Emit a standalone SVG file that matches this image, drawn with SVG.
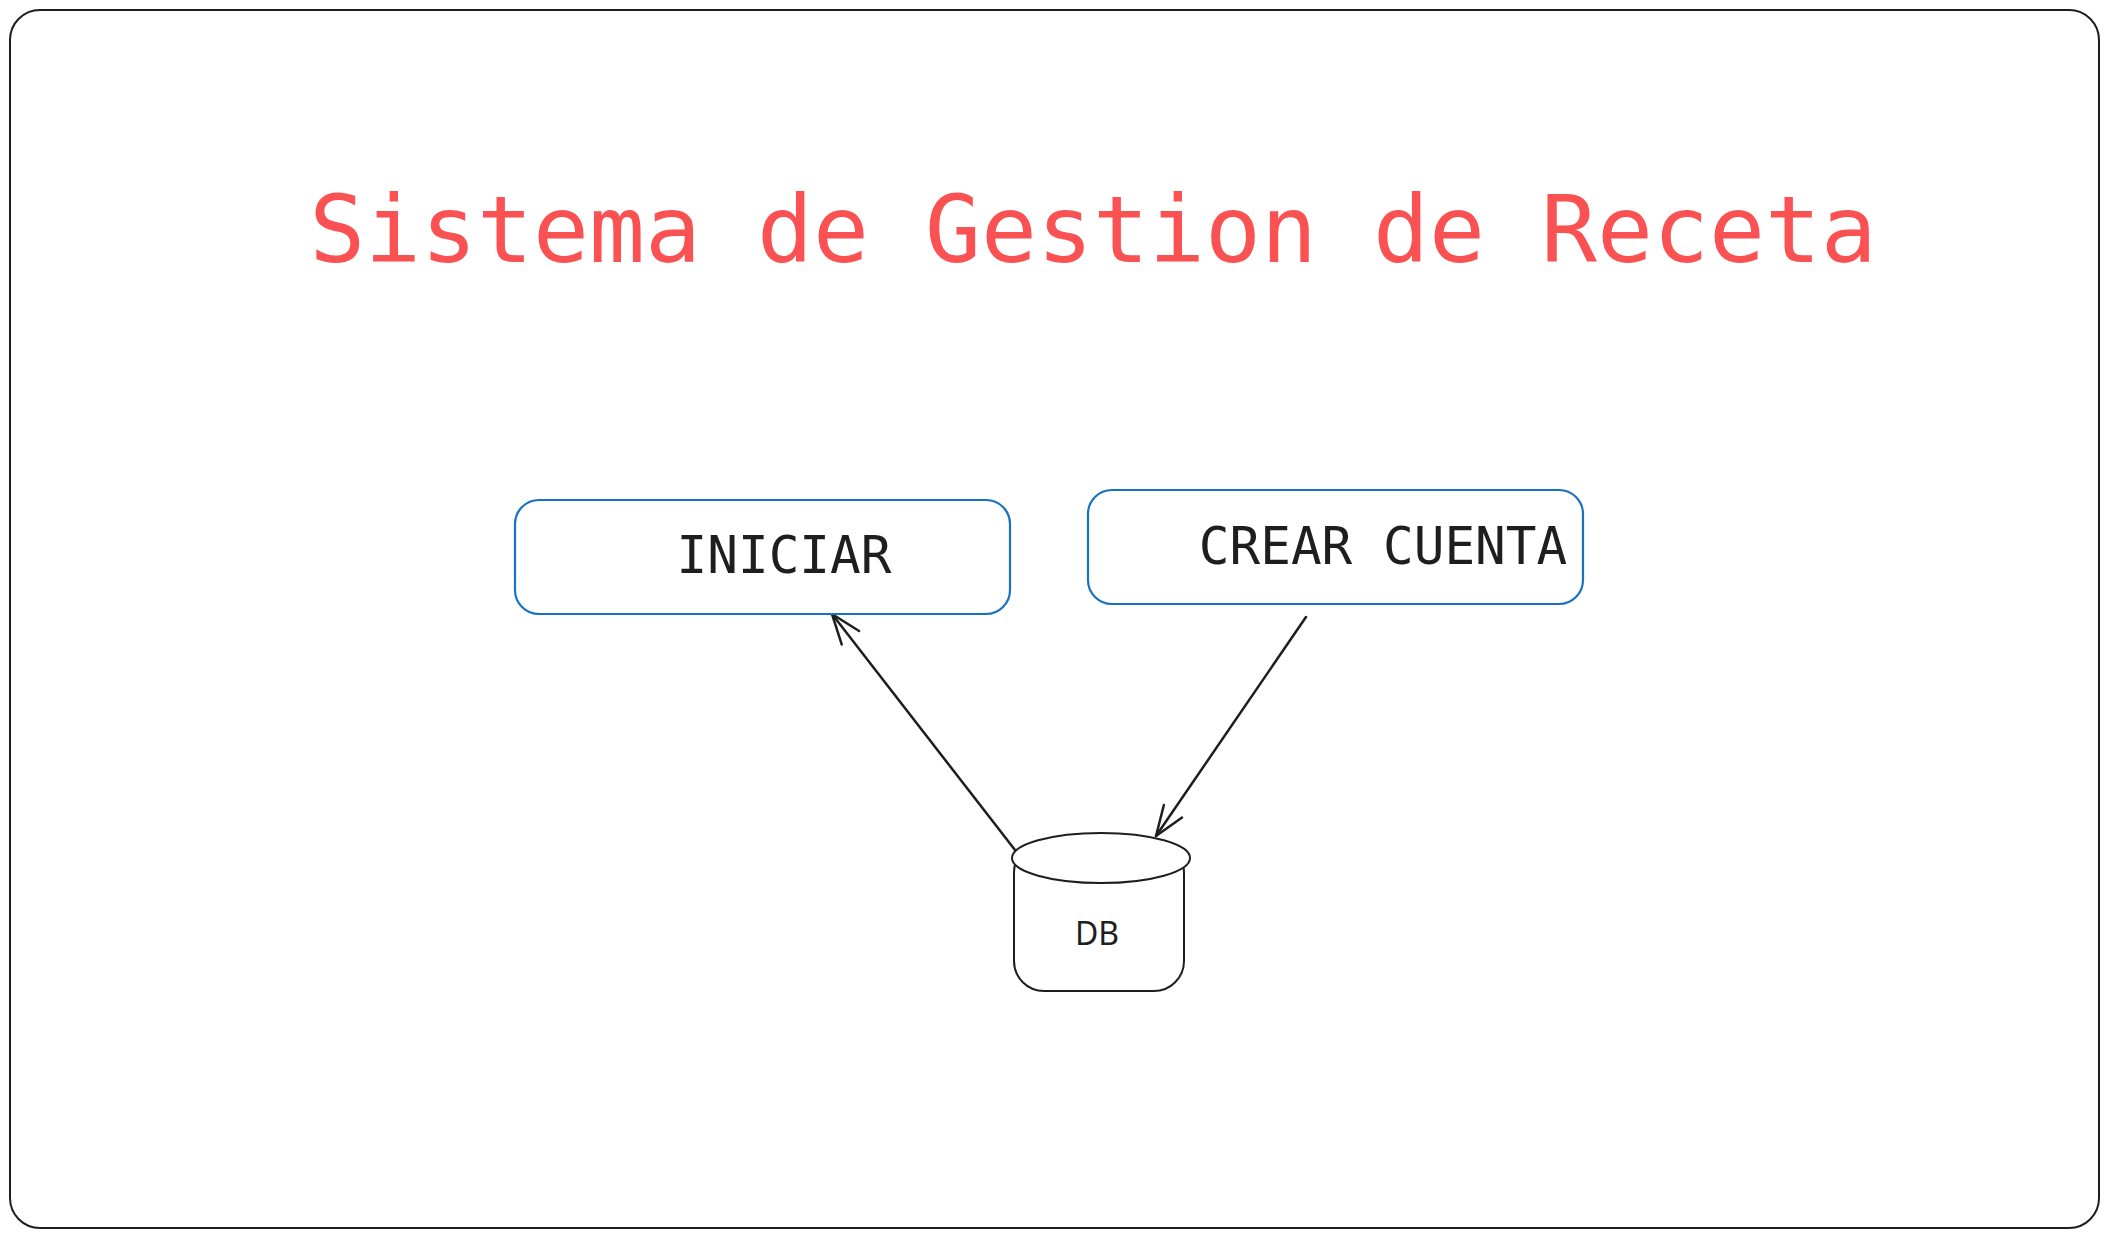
<svg xmlns="http://www.w3.org/2000/svg" width="2108" height="1238" viewBox="0 0 2108 1238">
<style>
.frame{fill:#ffffff;stroke:#1e1e1e;stroke-width:2}
.box{fill:#ffffff;stroke:#1971c2;stroke-width:2.2}
.db{fill:#ffffff;stroke:#1e1e1e;stroke-width:2}
.title{font-family:"DejaVu Sans Mono","Liberation Mono",monospace;font-size:93px;fill:#fa5252}
.lbl{font-family:"DejaVu Sans Mono","Liberation Mono",monospace;font-size:51px;fill:#1e1e1e}
.dbl{font-family:"Noto Sans","Open Sans",sans-serif;font-size:32px;fill:#1e1e1e}
.conn{fill:none;stroke:#1e1e1e;stroke-width:2.5;stroke-linecap:round}
</style>
<defs>
<marker id="ah" markerUnits="userSpaceOnUse" markerWidth="40" markerHeight="40" viewBox="-35 -20 40 40" refX="0" refY="0" orient="auto" overflow="visible">
<path d="M-30,-11 L0,0 L-30,11" fill="none" stroke="#1e1e1e" stroke-width="2.5" stroke-linecap="round" stroke-linejoin="round"/>
</marker>
</defs>
<rect width="2108" height="1238" fill="#ffffff"/>
<g id="frame"><rect class="frame" x="10" y="10" width="2089" height="1218" rx="30"/></g>
<g id="title"><text class="title" x="1093" y="262" text-anchor="middle">Sistema de Gestion de Receta</text></g>
<g id="connectors">
<path class="conn" d="M1015,850 L832,614" marker-end="url(#ah)"/>
<path class="conn" d="M1306,617 L1156,836" marker-end="url(#ah)"/>
</g>
<g id="iniciar">
<rect class="box" x="515" y="500" width="495" height="114" rx="24"/>
<text class="lbl" x="784" y="573" text-anchor="middle">INICIAR</text>
</g>
<g id="crear-cuenta">
<rect class="box" x="1088" y="490" width="495" height="114" rx="24"/>
<text class="lbl" x="1383" y="564" text-anchor="middle">CREAR CUENTA</text>
</g>
<g id="db">
<rect class="db" x="1014" y="842" width="170" height="149" rx="30"/>
<ellipse class="db" cx="1101" cy="858" rx="89" ry="25"/>
<text class="dbl" x="1097" y="945" text-anchor="middle">DB</text>
</g>
</svg>
